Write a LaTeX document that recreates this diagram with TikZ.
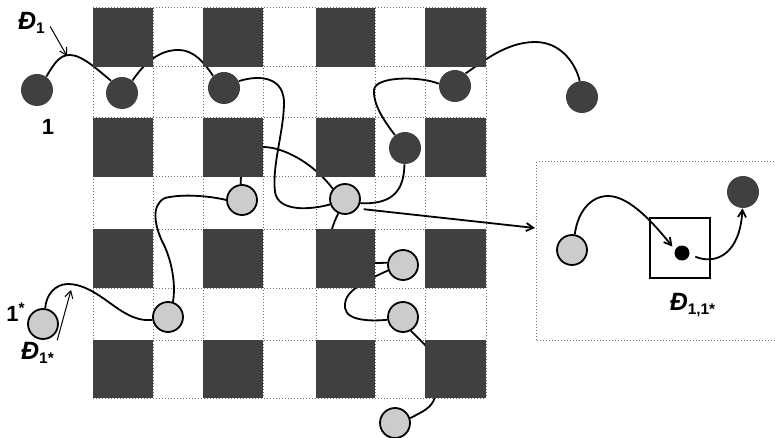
\documentclass[tikz,border=0pt]{standalone}
\usepackage{fontspec}
\setmainfont{Liberation Sans}
\usetikzlibrary{arrows.meta}
\newcommand{\Dstroke}{{\fontsize{12.5}{14}\selectfont\textit{Đ}}}
\tikzset{
  tile/.style={fill=black!75,draw=none},
  gridline/.style={densely dotted,line width=0.5pt,black!55},
  chain/.style={line width=0.9pt},
  darkbead/.style={circle,fill=black!75,inner sep=0pt,minimum size=16pt},
  lightbead/.style={circle,draw,line width=0.9pt,fill=black!20,inner sep=0pt,minimum size=15pt},
  panelbox/.style={draw=black!55,densely dotted,line width=0.5pt,minimum width=120.5pt,minimum height=89pt},
  lbl/.style={font=\fontsize{11}{13}\selectfont\bfseries,inner sep=1pt},
  tip/.style={-{Straight Barb[length=3.5pt,width=4pt]}},
}
\begin{document}
\begin{tikzpicture}[x=0.5pt,y=-0.5pt]
  \useasboundingbox (0,0) rectangle (775,438);
  % lattice
  \foreach \gx in {93,153,203,263,316,375,425,486}
    \draw[gridline] (\gx,8) -- (\gx,398);
  \foreach \gy in {8,67,118,177,229,288,340,398}
    \draw[gridline] (93,\gy) -- (486,\gy);
  % beads
  \node[darkbead] (d1) at (37,90) {};
  \node[darkbead] (d2) at (122,93) {};
  \node[darkbead] (d3) at (224,88) {};
  \node[darkbead] (d4) at (455,86) {};
  \node[darkbead] (d5) at (582,97) {};
  \node[darkbead] (d6) at (405,148) {};
  \node[lightbead] (l1) at (242,200) {};
  \node[lightbead] (l2) at (345,199) {};
  \node[lightbead] (l3) at (403,265) {};
  \node[lightbead] (l4) at (403,317) {};
  \node[lightbead] (l5) at (168,317) {};
  \node[lightbead] (l6) at (395,423) {};
  \node[lightbead] (s1) at (43,324) {};
  % chains
  \coordinate (d1top) at (67,56);
  \draw[chain] (d1.55) .. controls (55,62) and (60,55) .. (70,55)
    .. controls (82,55) and (98,70) .. (d2.132);
  \draw[chain] (d2.50) .. controls (145,62) and (160,50) .. (178,50)
    .. controls (195,50) and (205,64) .. (d3.132);
  \draw[chain] (d3.25) .. controls (262,74) and (285,78) .. (284,105)
    .. controls (283,135) and (272,165) .. (275,192)
    .. controls (278,212) and (310,210) .. (l2.200);
  \coordinate (w1) at (263,147);
  \draw[chain] (w1) .. controls (285,147) and (315,165) .. (l2.140);
  \coordinate (w2) at (331,232);
  \draw[chain] (l2.245) .. controls (335,220) .. (w2);
  \draw[chain] (l2.-15) .. controls (395,205) and (404,188) .. (d6.268);
  \draw[chain] (d6.128) .. controls (385,122) and (373,105) .. (374,90)
    .. controls (375,76) and (420,76) .. (d4.172);
  \draw[chain] (d4.50) .. controls (480,64) and (505,42) .. (535,42)
    .. controls (560,42) and (575,62) .. (d5.98);
  \draw[chain] (s1.82) .. controls (46,295) and (55,284) .. (68,284)
    .. controls (90,284) and (110,305) .. (125,313)
    .. controls (135,319) and (145,321) .. (l5.190);
  \draw[chain] (l5.72) .. controls (176,285) and (172,262) .. (164,245)
    .. controls (155,228) and (150,205) .. (165,198)
    .. controls (185,193) and (215,197) .. (l1.180);
  \coordinate (w3) at (241,176);
  \draw[chain] (l1.95) -- (w3);
  \coordinate (w4) at (374,263);
  \coordinate (w5) at (374,277);
  \draw[chain] (l3.172) -- (w4);
  \draw[chain] (l3.200) -- (w5);
  \coordinate (w6) at (357,287);
  \draw[chain] (l4.190) .. controls (375,321) and (347,322) .. (345,308)
    .. controls (344,298) and (350,292) .. (w6);
  \coordinate (w7) at (426,346);
  \draw[chain] (l4.-60) -- (w7);
  \coordinate (w8) at (435,397);
  \draw[chain] (l6.18) .. controls (422,412) and (432,408) .. (w8);
  % dark tiles on top
  \foreach \xa/\xb in {93/153,203/263,316/375,425/486}
    \foreach \ya/\yb in {8/67,118/177,229/288,340/398}
      \fill[tile] (\xa,\ya) rectangle (\xb,\yb);
  % zoomed panel
  \node[panelbox] (panel) at (657,251) {};
  \node[draw,line width=0.6pt,minimum width=30pt,minimum height=30pt] (cage) at (680,248) {};
  \node[circle,fill=black,inner sep=0pt,minimum size=7.5pt] (core) at (682,253) {};
  \node[lightbead] (p1) at (572,250) {};
  \node[darkbead] (p2) at (743,192) {};
  \draw[chain,tip,shorten >=2pt] (p1.80) .. controls (578,210) and (592,196) .. (608,196)
    .. controls (630,196) and (655,225) .. (core.155);
  \draw[chain,tip,shorten <=3pt] (core.-10) .. controls (715,265) and (740,255) .. (p2.268);
  \coordinate (pin) at (535,228);
  \draw[chain,tip,shorten <=3pt] (l2.-37) -- (pin);
  % labels
  \node[lbl] (lD1) at (32,23) {\Dstroke\textsubscript{1}};
  \draw[tip,line width=0.5pt,shorten <=2pt] (lD1.east) -- (d1top);
  \node[lbl] (lone) at (48,127) {1};
  \node[lbl] (lstar) at (16,312) {1\textsuperscript{*}};
  \coordinate (s1top) at (71,290);
  \node[lbl] (lDS) at (38,353) {\Dstroke\textsubscript{1*}};
  \draw[tip,line width=0.5pt] (lDS.north east) -- (s1top);
  \node[lbl] (lD11) at (693,305) {\Dstroke\textsubscript{1,1*}};
\end{tikzpicture}
\end{document}
